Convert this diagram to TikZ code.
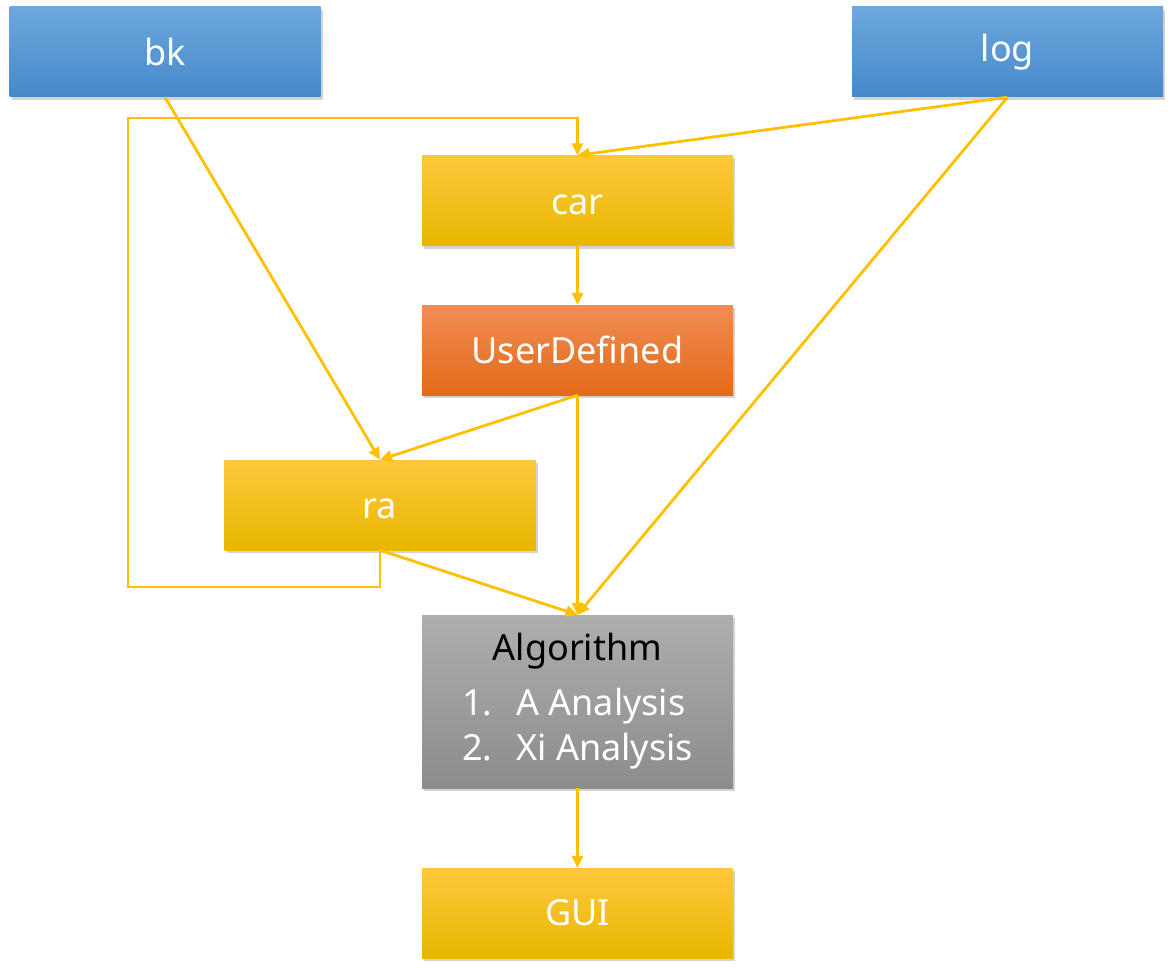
\documentclass[tikz,border=0pt]{standalone}
\usepackage{fontspec}
\setmainfont{Noto Sans}
\usetikzlibrary{arrows.meta,shadows,positioning}
\definecolor{arrowc}{HTML}{FFC000}
\definecolor{bluetop}{HTML}{6DA7DE}
\definecolor{bluebot}{HTML}{4589CA}
\definecolor{yeltop}{HTML}{FFC83D}
\definecolor{yelmid}{HTML}{FFC000}
\definecolor{yelbot}{HTML}{E8B700}
\definecolor{ortop}{HTML}{F08D55}
\definecolor{ormid}{HTML}{F27A2C}
\definecolor{orbot}{HTML}{E36A18}
\definecolor{grtop}{HTML}{AEAEAE}
\definecolor{grbot}{HTML}{8C8C8C}
\tikzset{
  box/.style={rectangle, minimum width=311pt, minimum height=90pt, inner sep=0pt,
    text=white, font=\fontsize{36}{43}\selectfont,
    drop shadow={opacity=0.35, shadow xshift=2pt, shadow yshift=-3pt}},
  bluebox/.style={box, top color=bluetop, bottom color=bluebot},
  yelbox/.style={box, top color=yeltop, middle color=yelmid, bottom color=yelbot},
  orbox/.style={box, top color=ortop, middle color=ormid, bottom color=orbot},
  grbox/.style={box, top color=grtop, bottom color=grbot, minimum height=173pt},
  conn/.style={draw=arrowc, line width=2.8pt, -{Triangle[length=12pt,width=11pt]}},
}
\begin{document}
\begin{tikzpicture}[x=1pt,y=-1pt]
\useasboundingbox (0,0) rectangle (1173,971);
\node[bluebox] (bk) at (165,52) {bk};
\node[bluebox] (log) at (1007.5,52) {log\vphantom{k}};
\node[yelbox] (car) at (577.5,200.5) {car\vphantom{k}};
\node[orbox] (ud) at (577.5,350) {UserDefined};
\node[yelbox] (ra) at (380,505) {ra\vphantom{k}};
\node[grbox] (alg) at (577.5,701.5) {\begin{tabular}{@{}l@{\hspace{24pt}}l@{}}
\multicolumn{2}{c}{\color{black}Algorithm}\\[12pt]
1. & A Analysis\\[2pt]
2. & Xi Analysis
\end{tabular}};
\node[yelbox] (gui) at (577.5,913) {GUI};
\coordinate (l1) at (128,587);
\coordinate (l2) at (128,118);
\draw[conn] (bk.south) -- (ra.north);
\draw[conn] (ra.south) |- (l1) |- (l2) -| (car.north);
\draw[conn] (log.south) -- (car.north);
\draw[conn] (log.south) -- (alg.north);
\draw[conn] (car.south) -- (ud.north);
\draw[conn] (ud.south) -- (ra.north);
\draw[conn] (ud.south) -- (alg.north);
\draw[conn] (ra.south) -- (alg.north);
\draw[conn] (alg.south) -- (gui.north);
\end{tikzpicture}
\end{document}
